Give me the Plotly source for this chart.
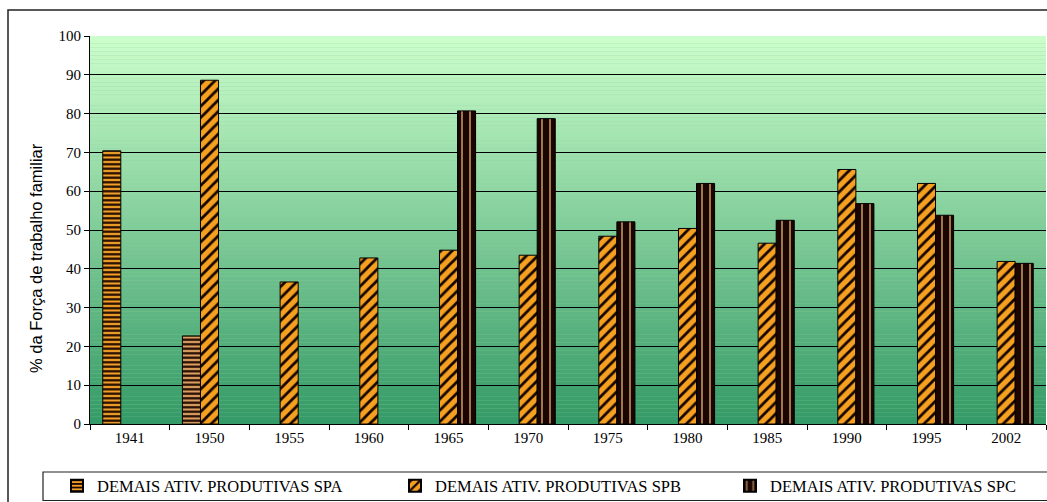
import plotly.graph_objects as go

categories = ["1941", "1950", "1955", "1960", "1965", "1970", "1975", "1980", "1985", "1990", "1995", "2002"]
spa = [70.4, 22.7, None, None, None, None, None, None, None, None, None, None]
spb = [None, 88.6, 36.6, 42.8, 44.8, 43.5, 48.4, 50.4, 46.6, 65.6, 62.0, 41.9]
spc = [None, None, None, None, 80.7, 78.7, 52.1, 62.0, 52.5, 56.8, 53.8, 41.4]
names = ["DEMAIS ATIV. PRODUTIVAS SPA", "DEMAIS ATIV. PRODUTIVAS SPB", "DEMAIS ATIV. PRODUTIVAS SPC"]

W, H = 1047, 502
L, R, T, B = 90, 1, 36, 78
pw, ph = W - L - R, H - T - B

def px_x(p):
    return (p - L) / pw

def px_y(p):
    return (H - B - p) / ph

fig = go.Figure()
fig.add_trace(go.Bar(
    x=categories, y=spa, name=names[0], legend="legend",
    marker=dict(color="#F0A028", line=dict(color="black", width=1),
                pattern=dict(shape="-", bgcolor=["#F0A028", "#D9A060"] + ["#F0A028"] * 10,
                             fgcolor="#200800", size=4.5, solidity=0.5, fillmode="replace")),
))
fig.add_trace(go.Bar(
    x=categories, y=spb, name=names[1], legend="legend2",
    marker=dict(color="#F5A020", line=dict(color="black", width=1),
                pattern=dict(shape="/", bgcolor="#F5A020", fgcolor="#140400",
                             size=8, solidity=0.35, fillmode="replace")),
))
fig.add_trace(go.Bar(
    x=categories, y=spc, name=names[2], legend="legend3",
    marker=dict(color="#1A0500", line=dict(color="black", width=1),
                pattern=dict(shape="|", bgcolor="#1A0500", fgcolor="#A07850",
                             size=8, solidity=0.25, fillmode="replace")),
))

# gradient background strips
shapes = []
top = (204, 255, 204)
bot = (51, 153, 102)
n = 100
for i in range(n):
    t = (i + 0.5) / n
    c = tuple(int(round(bot[k] + (top[k] - bot[k]) * t)) for k in range(3))
    shapes.append(dict(type="rect", xref="paper", yref="y", x0=0, x1=1,
                       y0=100 * i / n, y1=100 * (i + 1) / n,
                       fillcolor="rgb(%d,%d,%d)" % c, line=dict(width=0), layer="below"))
# outer chart border
shapes.append(dict(type="rect", xref="paper", yref="paper",
                   x0=px_x(8), x1=px_x(1060), y0=px_y(10), y1=px_y(520),
                   line=dict(color="#222", width=1.5), fillcolor="rgba(0,0,0,0)", layer="above"))
# legend border
shapes.append(dict(type="rect", xref="paper", yref="paper",
                   x0=px_x(43), x1=px_x(1060), y0=px_y(472), y1=px_y(500.5),
                   line=dict(color="#222", width=1.2), fillcolor="white", layer="above"))

leg_common = dict(orientation="h", xanchor="left", yanchor="middle",
                  font=dict(family="Liberation Serif", size=16.5, color="black"),
                  bgcolor="rgba(0,0,0,0)", borderwidth=0, itemsizing="constant")
leg_y = px_y(486)

fig.update_layout(
    width=W, height=H,
    margin=dict(l=L, r=R, t=T, b=B, autoexpand=False),
    paper_bgcolor="white",
    plot_bgcolor="#8FCC99",
    barmode="group",
    bargap=0.32, bargroupgap=0,
    font=dict(family="Liberation Serif", size=15, color="black"),
    shapes=shapes,
    showlegend=True,
    legend=dict(x=px_x(57), y=leg_y, **leg_common),
    legend2=dict(x=px_x(395), y=leg_y, **leg_common),
    legend3=dict(x=px_x(730), y=leg_y, **leg_common),
    xaxis=dict(showline=True, linecolor="black", linewidth=1, ticks="outside",
               tickson="boundaries", ticklen=5, tickcolor="black",
               showgrid=False, fixedrange=True,
               tickfont=dict(family="Liberation Serif", size=15)),
    yaxis=dict(range=[0, 100], dtick=10, showline=True, linecolor="black", linewidth=1,
               ticks="outside", ticklen=5, tickcolor="black",
               showgrid=True, gridcolor="black", gridwidth=1, zeroline=False,
               fixedrange=True,
               tickfont=dict(family="Liberation Serif", size=15)),
    annotations=[dict(text="% da Força de trabalho familiar", xref="paper", yref="paper",
                      x=px_x(36), y=px_y(258), textangle=-90, showarrow=False,
                      xanchor="center", yanchor="middle",
                      font=dict(family="Liberation Sans", size=16.5, color="black"))],
)

fig.write_html("out.html",
               config={"displayModeBar": False},
               post_script="document.body.style.margin='0';document.body.style.overflow='hidden';")
